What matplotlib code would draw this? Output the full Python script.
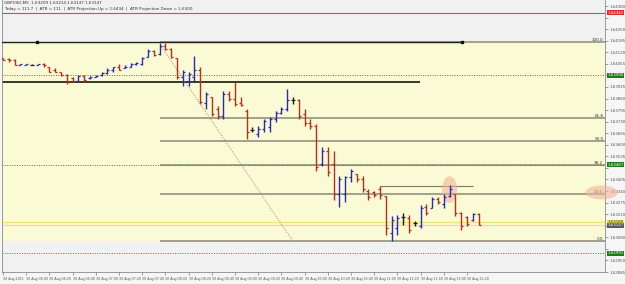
import numpy as np
import matplotlib
matplotlib.use("Agg")
import matplotlib.pyplot as plt
import matplotlib.transforms as mtransforms
from matplotlib.patches import Ellipse, Rectangle

# header texts
symbol_line = "GBPUSD,M5  1.63209 1.63214 1.63147 1.63147"
info_line = "Today = 111.7  |  ATR = 111  |  ATR Projection Up = 1.6434  |  ATR Projection Down = 1.6300"

# M5 bars, 30 Aug 2011 05:40 .. 12:30
opens = [1.64090, 1.64085, 1.64074, 1.64049, 1.64051, 1.64051, 1.64051, 1.64057, 1.64035, 1.64023,
         1.64012, 1.63990, 1.63973, 1.63956, 1.63984, 1.63973, 1.63979, 1.63990, 1.64001, 1.64018,
         1.64040, 1.64029, 1.64040, 1.64057, 1.64057, 1.64096, 1.64129, 1.64113, 1.64157, 1.64141,
         1.64090, 1.63979, 1.63956, 1.63979, 1.64023, 1.63834, 1.63867, 1.63800, 1.63761, 1.63884,
         1.63856, 1.63834, 1.63789, 1.63684, 1.63661, 1.63689, 1.63700, 1.63744, 1.63778, 1.63800,
         1.63850, 1.63850, 1.63772, 1.63722, 1.63705, 1.63493, 1.63566, 1.63493, 1.63326, 1.63326,
         1.63421, 1.63438, 1.63410, 1.63343, 1.63332, 1.63354, 1.63315, 1.63103, 1.63131, 1.63192,
         1.63186, 1.63159, 1.63142, 1.63248, 1.63242, 1.63298, 1.63270, 1.63315, 1.63326, 1.63214,
         1.63192, 1.63175, 1.63209]
highs = [1.64090, 1.64090, 1.64085, 1.64057, 1.64057, 1.64057, 1.64057, 1.64062, 1.64035, 1.64029,
         1.64012, 1.63996, 1.63979, 1.63990, 1.63990, 1.63984, 1.63990, 1.64007, 1.64029, 1.64040,
         1.64057, 1.64046, 1.64062, 1.64068, 1.64096, 1.64141, 1.64135, 1.64174, 1.64174, 1.64146,
         1.64090, 1.64023, 1.64007, 1.64102, 1.64035, 1.63895, 1.63867, 1.63817, 1.63901, 1.63901,
         1.63951, 1.63867, 1.63800, 1.63700, 1.63705, 1.63744, 1.63756, 1.63789, 1.63811, 1.63912,
         1.63867, 1.63856, 1.63800, 1.63744, 1.63717, 1.63588, 1.63588, 1.63566, 1.63426, 1.63426,
         1.63465, 1.63438, 1.63426, 1.63354, 1.63343, 1.63371, 1.63315, 1.63198, 1.63203, 1.63214,
         1.63203, 1.63170, 1.63259, 1.63270, 1.63309, 1.63309, 1.63326, 1.63376, 1.63326, 1.63225,
         1.63198, 1.63214, 1.63214]
lows = [1.64074, 1.64068, 1.64046, 1.64046, 1.64046, 1.64046, 1.64046, 1.64040, 1.64007, 1.64007,
        1.63984, 1.63940, 1.63951, 1.63951, 1.63951, 1.63968, 1.63979, 1.63984, 1.63996, 1.64012,
        1.64018, 1.64029, 1.64040, 1.64051, 1.64051, 1.64096, 1.64102, 1.64107, 1.64135, 1.64090,
        1.63968, 1.63929, 1.63929, 1.63951, 1.63828, 1.63800, 1.63761, 1.63744, 1.63744, 1.63845,
        1.63817, 1.63817, 1.63633, 1.63672, 1.63644, 1.63672, 1.63672, 1.63728, 1.63772, 1.63789,
        1.63828, 1.63744, 1.63705, 1.63689, 1.63454, 1.63482, 1.63426, 1.63287, 1.63253, 1.63281,
        1.63393, 1.63393, 1.63337, 1.63287, 1.63309, 1.63298, 1.63091, 1.63058, 1.63091, 1.63147,
        1.63103, 1.63142, 1.63131, 1.63203, 1.63242, 1.63270, 1.63242, 1.63309, 1.63198, 1.63119,
        1.63142, 1.63170, 1.63147]
closes = [1.64079, 1.64074, 1.64051, 1.64054, 1.64054, 1.64051, 1.64054, 1.64046, 1.64012, 1.64012,
          1.63990, 1.63951, 1.63956, 1.63984, 1.63962, 1.63979, 1.63987, 1.64001, 1.64023, 1.64035,
          1.64023, 1.64040, 1.64057, 1.64062, 1.64090, 1.64129, 1.64107, 1.64157, 1.64141, 1.64096,
          1.63979, 1.64012, 1.63996, 1.64023, 1.63839, 1.63884, 1.63772, 1.63761, 1.63884, 1.63856,
          1.63828, 1.63823, 1.63672, 1.63684, 1.63689, 1.63733, 1.63744, 1.63778, 1.63800, 1.63850,
          1.63850, 1.63761, 1.63722, 1.63705, 1.63477, 1.63566, 1.63449, 1.63326, 1.63410, 1.63421,
          1.63454, 1.63410, 1.63354, 1.63309, 1.63320, 1.63320, 1.63131, 1.63175, 1.63186, 1.63192,
          1.63119, 1.63159, 1.63242, 1.63214, 1.63298, 1.63281, 1.63309, 1.63354, 1.63214, 1.63142,
          1.63153, 1.63209, 1.63147]

time_labels = ["30 Aug 2011", "30 Aug 06:00", "30 Aug 06:20", "30 Aug 06:40", "30 Aug 07:00",
               "30 Aug 07:20", "30 Aug 07:40", "30 Aug 08:00", "30 Aug 08:20", "30 Aug 08:40",
               "30 Aug 09:00", "30 Aug 09:20", "30 Aug 09:40", "30 Aug 10:00", "30 Aug 10:20",
               "30 Aug 10:40", "30 Aug 11:00", "30 Aug 11:20", "30 Aug 11:40", "30 Aug 12:00",
               "30 Aug 12:20"]

price_ticks = [1.64380, 1.64315, 1.64250, 1.64185, 1.64120, 1.64055, 1.63990, 1.63925, 1.63860,
               1.63795, 1.63730, 1.63665, 1.63600, 1.63535, 1.63470, 1.63405, 1.63340, 1.63275,
               1.63210, 1.63145, 1.63080, 1.63015, 1.62950, 1.62885]

# objects on the chart
fib_high = 1.64180
fib_low = 1.63058
fib_levels = [0.0, 23.6, 38.2, 50.0, 61.8, 100.0]
atr_up = 1.64342
green_levels = [1.63990, 1.63487, 1.62991]
yellow_levels = [1.63166, 1.63152]
black_level = 1.63951
top_trend = 1.64180
swing_level = 1.63371
diag_prices = [1.64163, 1.63058]
bid = 1.63147

up_col = "#2a2ab2"
dn_col = "#b3301c"

fig = plt.figure(figsize=(6.25, 2.84), dpi=100, facecolor="#f6f6f6")
ax = fig.add_axes([2 / 625, 12 / 284, 603 / 625, 272 / 284])
ax.set_facecolor("#f1f1f1")

x = np.arange(len(opens))
xmin, xmax = -0.17, 103.8
ax.set_xlim(xmin, xmax)
ax.set_ylim(1.62896, 1.64414)

# yellow zone
ax.add_patch(Rectangle((xmin, fib_low), xmax - xmin, fib_high - fib_low,
                       fc="#fafad4", ec="none", zorder=0))

# horizontal objects
ax.axhline(atr_up, color="#d05050", lw=0.8, zorder=1)
for lv in green_levels:
    ax.axhline(lv, color="#2e8b2e", lw=0.7, ls=(0, (1, 1.5)), zorder=2)
for lv in yellow_levels:
    ax.axhline(lv, color="#f2e27a", lw=0.9, zorder=1)
ax.hlines(black_level, xmin, 71.9, color="#151515", lw=1.2, zorder=2)
ax.hlines(swing_level, 65, 81, color="#7a7a6a", lw=0.8, zorder=2)

# fibonacci retracement
for lv in fib_levels:
    p = fib_low + (fib_high - fib_low) * lv / 100
    ax.hlines(p, 27, xmax, color="#8a8a78", lw=1.1, zorder=1)
    ax.text(xmax - 0.3, p, "%.1f" % lv, fontsize=3.0, color="#333333",
            ha="right", va="bottom", zorder=5)

# trendline on the high with anchor points
ax.plot([xmin, 79.1], [top_trend, top_trend], color="#222222", lw=1.0, zorder=3)
ax.plot([5.9, 79.1], [top_trend, top_trend], ls="none", marker="s", ms=1.6,
        color="#111111", zorder=4)

# dotted diagonal
ax.plot([27.1, 50], diag_prices, color="#c07a6a", lw=0.7, ls=(0, (1, 1.5)), zorder=2)

# highlights
ax.add_patch(Ellipse((77, 1.63348), 2.6, 0.00150, fc="#f1b49c", ec="none",
                     alpha=0.6, zorder=3))
ax.add_patch(Ellipse((103.2, 1.63332), 5.6, 0.00078, fc="#f1b49c", ec="none",
                     alpha=0.6, zorder=6, clip_on=False))

# OHLC bars
colors = [up_col if c > o else dn_col if c < o else "#1a1a1a" for o, c in zip(opens, closes)]
ax.vlines(x, lows, highs, colors=colors, lw=1.0, zorder=4)
ax.hlines(opens, x - 0.35, x, colors=colors, lw=0.9, zorder=4)
ax.hlines(closes, x, x + 0.35, colors=colors, lw=0.9, zorder=4)

# header
ax.text(0.004, 0.997, symbol_line, transform=ax.transAxes, fontsize=3.0,
        color="#333333", va="top", ha="left")
ax.text(0.004, 0.974, info_line, transform=ax.transAxes, fontsize=3.0,
        color="#333333", va="top", ha="left")

# price tags on the axis
trans = mtransforms.blended_transform_factory(ax.transAxes, ax.transData)
tags = [(atr_up, "#e02828", "white")]
tags += [(lv, "#1f7a1f", "white") for lv in green_levels]
tags += [(yellow_levels[0], "#f0e050", "#333333"), (bid, "#5a5a5a", "white")]

# price axis (labels hidden under the tags, as in the terminal)
ax.yaxis.tick_right()
ax.set_yticks(price_ticks)
tag_prices = [t[0] for t in tags]
ax.set_yticklabels(["" if min(abs(p - q) for q in tag_prices) < 0.0003 else "%.5f" % p
                    for p in price_ticks])
ax.tick_params(axis="y", labelsize=2.9, labelcolor="#555555", length=2,
               width=0.5, color="#777777", pad=1.2)

# time axis
ax.set_xticks(x[::4])
ax.set_xticklabels(time_labels, ha="left")
ax.tick_params(axis="x", labelsize=2.35, labelcolor="#555555", length=2,
               width=0.5, color="#777777", pad=1.5)

for s in ["left", "right", "bottom"]:
    ax.spines[s].set_color("#8a8a8a")
    ax.spines[s].set_linewidth(0.6)
ax.spines["top"].set_visible(False)

for p, bg, fg in tags:
    ax.text(1.004, p, "%.5f" % p, transform=trans, fontsize=2.9, color=fg,
            va="center", ha="left", clip_on=False, zorder=7,
            bbox=dict(boxstyle="square,pad=0.12", fc=bg, ec="none"))

fig.savefig("out.png", dpi=100, facecolor=fig.get_facecolor())
